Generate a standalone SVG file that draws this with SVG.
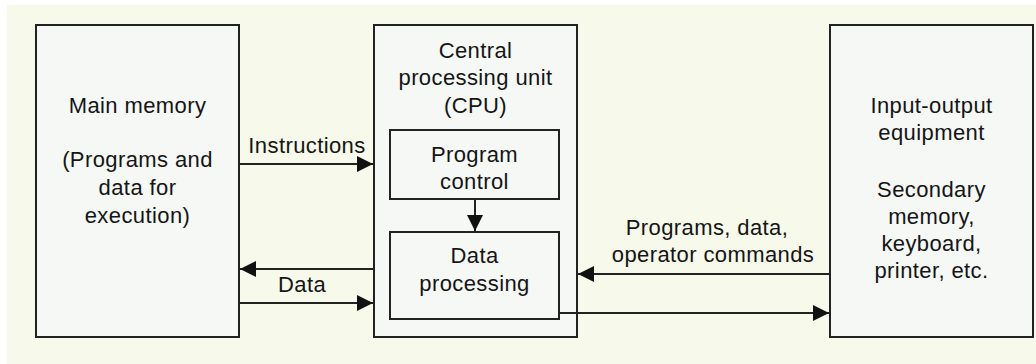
<svg xmlns="http://www.w3.org/2000/svg" width="1036" height="364" viewBox="0 0 1036 364">
  <defs>
    <style>
      .box { fill: #f5f8f5; stroke: #222; stroke-width: 2; }
      .lbl { font-family: "Liberation Sans", Arial, sans-serif; font-size: 22px; fill: #151515; text-anchor: middle; letter-spacing: 0.4px; }
      .wire { fill: none; stroke: #222; stroke-width: 2; }
    </style>
    <marker id="head" viewBox="0 0 16 16" refX="16" refY="8" markerWidth="16" markerHeight="16" markerUnits="userSpaceOnUse" orient="auto">
      <path d="M0,0 L16,8 L0,16 Z" fill="#111"/>
    </marker>
  </defs>

  <!-- page -->
  <rect x="0" y="0" width="1036" height="364" fill="#ffffff"/>
  <rect x="7" y="5" width="1029" height="359" fill="#f7f9ea"/>

  <g id="main-memory">
    <rect class="box" x="36" y="25" width="203" height="312"/>
    <text class="lbl" x="137.5" y="113">Main memory</text>
    <text class="lbl" x="137.5" y="167">(Programs and</text>
    <text class="lbl" x="137.5" y="195">data for</text>
    <text class="lbl" x="137.5" y="223">execution)</text>
  </g>

  <g id="cpu">
    <rect class="box" x="374" y="25" width="203" height="312"/>
    <text class="lbl" x="475.5" y="58">Central</text>
    <text class="lbl" x="475.5" y="85">processing unit</text>
    <text class="lbl" x="475.5" y="113">(CPU)</text>
  </g>

  <g id="program-control">
    <rect class="box" x="390" y="130" width="169" height="69"/>
    <text class="lbl" x="474.5" y="162">Program</text>
    <text class="lbl" x="474.5" y="189">control</text>
  </g>

  <g id="data-processing">
    <rect class="box" x="390" y="232" width="169" height="87"/>
    <text class="lbl" x="474.5" y="263">Data</text>
    <text class="lbl" x="474.5" y="291">processing</text>
  </g>

  <g id="io-equipment">
    <rect class="box" x="830" y="25" width="203" height="312"/>
    <text class="lbl" x="931.5" y="113">Input-output</text>
    <text class="lbl" x="931.5" y="140">equipment</text>
    <text class="lbl" x="931.5" y="197">Secondary</text>
    <text class="lbl" x="931.5" y="224">memory,</text>
    <text class="lbl" x="931.5" y="251">keyboard,</text>
    <text class="lbl" x="931.5" y="278">printer, etc.</text>
  </g>

  <g id="connectors">
    <line class="wire" x1="240" y1="164" x2="373" y2="164" marker-end="url(#head)"/>
    <line class="wire" x1="373" y1="269" x2="240" y2="269" marker-end="url(#head)"/>
    <line class="wire" x1="240" y1="303" x2="373" y2="303" marker-end="url(#head)"/>
    <line class="wire" x1="475" y1="200" x2="475" y2="231" marker-end="url(#head)"/>
    <line class="wire" x1="829" y1="274" x2="578" y2="274" marker-end="url(#head)"/>
    <line class="wire" x1="560" y1="313" x2="829" y2="313" marker-end="url(#head)"/>
    <text class="lbl" x="307" y="153">Instructions</text>
    <text class="lbl" x="302" y="292">Data</text>
    <text class="lbl" x="707" y="235">Programs, data,</text>
    <text class="lbl" x="713" y="262">operator commands</text>
  </g>
</svg>
